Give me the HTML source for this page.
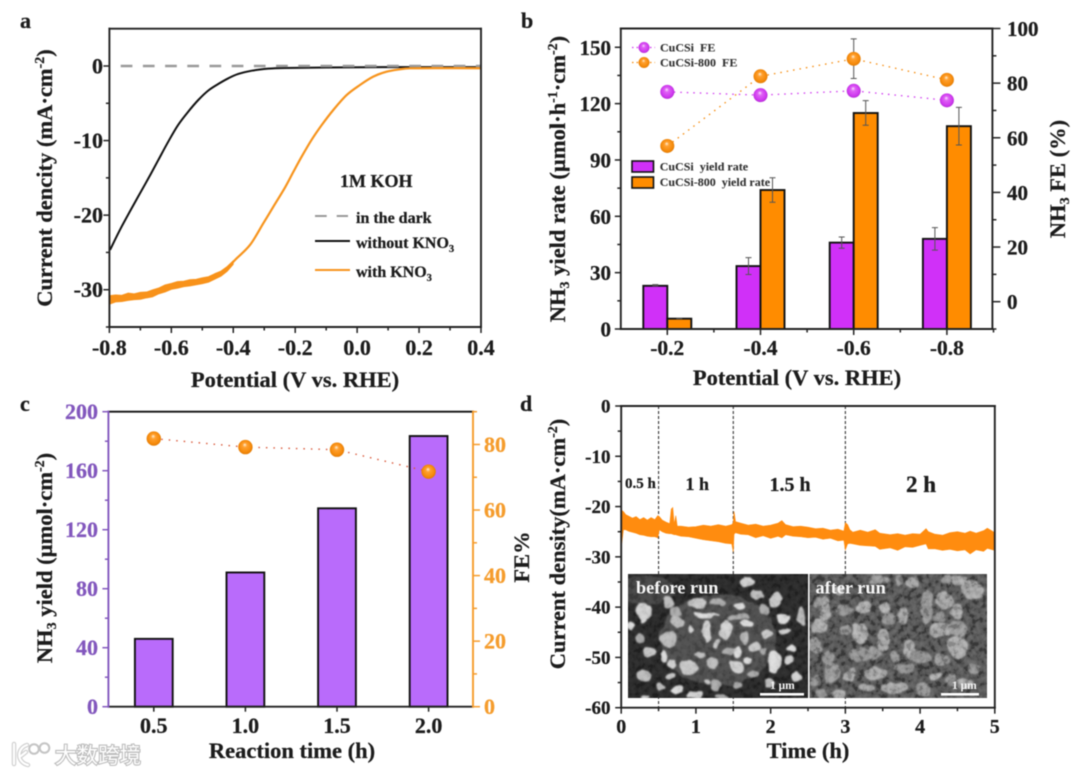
<!DOCTYPE html>
<html lang="en">
<head>
<meta charset="utf-8">
<title>NH3 electrosynthesis four-panel figure</title>
<style>
html,body{margin:0;padding:0;background:#fff;width:1080px;height:775px;overflow:hidden}
svg{display:block;filter:blur(0.5px)}
text{font-family:"Liberation Serif","Noto Serif CJK SC",serif;font-weight:bold;fill:#1c1c1c;stroke:#1c1c1c;stroke-width:.25}
.t22{font-size:22.5px}
.lg{font-size:12px;fill:#333;stroke:#333;stroke-width:.1}
.wh{fill:#f6f6f6;stroke:none}
</style>
</head>
<body>
<svg id="fig" xmlns="http://www.w3.org/2000/svg" width="1080" height="775" viewBox="0 0 1080 775">
<defs>
<radialGradient id="ballO" cx="50%" cy="50%" r="55%" fx="45%" fy="32%">
<stop offset="0" stop-color="#fff2dc"/><stop offset="0.28" stop-color="#ffa030"/><stop offset="0.75" stop-color="#f58a0a"/><stop offset="1" stop-color="#d87405"/>
</radialGradient>
<radialGradient id="ballP" cx="50%" cy="50%" r="55%" fx="45%" fy="32%">
<stop offset="0" stop-color="#fbe4ff"/><stop offset="0.28" stop-color="#df62f5"/><stop offset="0.75" stop-color="#cf38ef"/><stop offset="1" stop-color="#a826c8"/>
</radialGradient>
<filter id="sem" x="-5%" y="-5%" width="110%" height="110%">
<feTurbulence type="fractalNoise" baseFrequency="0.09" numOctaves="2" seed="4" result="n"/>
<feDisplacementMap in="SourceGraphic" in2="n" scale="7" xChannelSelector="R" yChannelSelector="G"/>
<feGaussianBlur stdDeviation="0.8"/>
</filter>
<filter id="grain" x="0" y="0" width="100%" height="100%">
<feTurbulence type="fractalNoise" baseFrequency="0.17" numOctaves="3" seed="9"/>
<feColorMatrix type="matrix" values="2.2 0 0 0 -0.75  2.2 0 0 0 -0.75  2.2 0 0 0 -0.75  0 0 0 0 1"/>
</filter>
<clipPath id="clipL"><rect x="628" y="574" width="180" height="124"/></clipPath>
<clipPath id="clipR"><rect x="809.5" y="574" width="177.5" height="124"/></clipPath>
</defs>
<rect x="0" y="0" width="1080" height="775" fill="#fff"/>

<g id="panelA"></g>
<g id="panelB"></g>
<g id="panelC"></g>
<g id="panelD"></g>

<text x="20" y="28" font-size="22">a</text>
<text x="521" y="28" font-size="22">b</text>
<text x="20" y="411" font-size="22">c</text>
<text x="520" y="411" font-size="22">d</text>

<!-- panel a text -->
<text class="t22" x="295" y="387" text-anchor="middle">Potential (V vs. RHE)</text>
<text class="t22" transform="translate(52 178) rotate(-90)" text-anchor="middle">Current dencity (mA·cm<tspan font-size="14" dy="-8">-2</tspan><tspan dy="8">)</tspan></text>
<text x="340" y="187" font-size="18">1M KOH</text>
<g>
<line x1="315" y1="216" x2="348" y2="216" stroke="#999" stroke-width="2" stroke-dasharray="11.7 10"/>
<text x="356" y="223" font-size="16">in the dark</text>
<line x1="315" y1="241" x2="350" y2="241" stroke="#111" stroke-width="2"/>
<text x="356" y="248" font-size="16">without KNO<tspan font-size="10.5" dy="4">3</tspan></text>
<line x1="315" y1="270" x2="350" y2="270" stroke="#f7941d" stroke-width="2"/>
<text x="356" y="277" font-size="16">with KNO<tspan font-size="10.5" dy="4">3</tspan></text>
</g>

<!-- panel b text -->
<text class="t22" x="797" y="385" text-anchor="middle">Potential (V vs. RHE)</text>
<text class="t22" transform="translate(565 179) rotate(-90)" text-anchor="middle">NH<tspan font-size="14" dy="4">3</tspan><tspan dy="-4"> yield rate (µmol·h</tspan><tspan font-size="14" dy="-8">-1</tspan><tspan dy="8">·cm</tspan><tspan font-size="14" dy="-8">-2</tspan><tspan dy="8">)</tspan></text>
<text class="t22" transform="translate(1065 179) rotate(-90)" text-anchor="middle">NH<tspan font-size="14" dy="4">3</tspan><tspan dy="-4"> FE (%)</tspan></text>
<g>
<line x1="632" y1="47.5" x2="655" y2="47.5" stroke="#cf38ef" stroke-width="1.2" stroke-dasharray="1.5 3"/>
<circle cx="644" cy="47.5" r="5.5" fill="url(#ballP)"/>
<text class="lg" x="660" y="51.5" xml:space="preserve">CuCSi  FE</text>
<line x1="632" y1="62.5" x2="655" y2="62.5" stroke="#f58a0a" stroke-width="1.2" stroke-dasharray="1.5 3"/>
<circle cx="644" cy="62.5" r="5.5" fill="url(#ballO)"/>
<text class="lg" x="660" y="66.5" xml:space="preserve">CuCSi-800  FE</text>
<rect x="632" y="161" width="21.5" height="11" fill="#d030f8" stroke="#111" stroke-width="1.6"/>
<text class="lg" x="659.7" y="170.5" xml:space="preserve">CuCSi  yield rate</text>
<rect x="632" y="177" width="21.5" height="11" fill="#ff8c00" stroke="#111" stroke-width="1.6"/>
<text class="lg" x="659.7" y="186" xml:space="preserve">CuCSi-800  yield rate</text>
</g>

<!-- panel c text -->
<text class="t22" x="292" y="758" text-anchor="middle">Reaction time (h)</text>
<text class="t22" transform="translate(52 558) rotate(-90)" text-anchor="middle">NH<tspan font-size="14" dy="4">3</tspan><tspan dy="-4"> yield (µmol·cm</tspan><tspan font-size="14" dy="-8">-2</tspan><tspan dy="8">)</tspan></text>
<text class="t22" transform="translate(529 557) rotate(-90)" text-anchor="middle">FE%</text>

<!-- panel d text -->
<text class="t22" x="808" y="758" text-anchor="middle">Time (h)</text>
<text class="t22" transform="translate(565 544) rotate(-90)" text-anchor="middle">Current density(mA·cm<tspan font-size="14" dy="-8">-2</tspan><tspan dy="8">)</tspan></text>
<text x="625" y="488" font-size="15">0.5 h</text>
<text x="685.5" y="490" font-size="18">1 h</text>
<text x="769.5" y="491" font-size="20">1.5 h</text>
<text x="906" y="492" font-size="23">2 h</text>

<!-- SEM inset -->
<g>
<g clip-path="url(#clipL)">
<rect x="628" y="574" width="180" height="124" fill="#222"/>
<ellipse cx="718" cy="640" rx="58" ry="46" fill="#484848" filter="url(#sem)"/>
<ellipse cx="645" cy="590" rx="30" ry="14" fill="#404040" filter="url(#sem)"/>
<g id="semLeft" filter="url(#sem)"></g>
<rect x="628" y="574" width="180" height="124" filter="url(#grain)" opacity="0.08"/>
</g>
<g clip-path="url(#clipR)">
<rect x="809" y="574" width="178" height="124" fill="#474747"/>
<g id="semRight" filter="url(#sem)"></g>
<rect x="809" y="574" width="178" height="124" filter="url(#grain)" opacity="0.2"/>
</g>
<rect x="808" y="574" width="1.6" height="124" fill="#f4f4f4"/>
<text class="wh" x="636" y="593.5" font-size="18.3">before run</text>
<text class="wh" x="815.5" y="593.5" font-size="18.3">after run</text>
<rect x="760" y="693" width="44" height="2.6" fill="#fff"/>
<text class="wh" x="770" y="689" font-size="11.5">1 μm</text>
<rect x="941" y="693" width="38" height="2.6" fill="#fff"/>
<text class="wh" x="952" y="689" font-size="11.5">1 μm</text>
</g>

<!-- watermark -->
<g>
<path d="M14 744 L14 764 M27 745 C17 748 16 762 28 765 M26 752 L21 756" fill="none" stroke="#cfcfcf" stroke-width="4.5" stroke-linecap="round"/>
<path d="M14 744 L14 764 M27 745 C17 748 16 762 28 765 M26 752 L21 756" fill="none" stroke="#fff" stroke-width="2.2" stroke-linecap="round"/>
<circle cx="34" cy="749" r="4.8" fill="#fff" stroke="#c4c4c4" stroke-width="2"/>
<circle cx="44.5" cy="748" r="4.8" fill="#fff" stroke="#c4c4c4" stroke-width="2"/>
<text x="55" y="763" font-size="21.5" style="font-family:'Liberation Sans','Noto Sans CJK SC',sans-serif;font-weight:normal;fill:#fff;stroke:#bcbcbc;stroke-width:2.2;paint-order:stroke">大数跨境</text>
</g>
</svg>

<script>
/* ---------- panel a data ---------- */
const aBlackV = [-0.798,-0.76,-0.707,-0.674,-0.642,-0.61,-0.578,-0.545,-0.513,-0.481,-0.448,-0.416,-0.384,-0.34,-0.287,-0.233,-0.1,0.1,0.4];
const aBlackJ = [-24.67,-21.5,-17.5,-15.06,-12.6,-10.15,-7.9,-6.1,-4.56,-3.3,-2.4,-1.65,-1.07,-0.63,-0.36,-0.27,-0.2,-0.15,-0.15];
const aOrangeV = [-0.42,-0.394,-0.346,-0.303,-0.271,-0.233,-0.206,-0.179,-0.147,-0.114,-0.077,-0.034,0.009,0.052,0.095,0.138,0.17,0.25,0.4];
const aOrangeJ = [-27.2,-26,-24,-21.1,-18.9,-16.3,-14.2,-12.15,-9.9,-7.9,-5.9,-3.9,-2.55,-1.43,-0.76,-0.44,-0.31,-0.28,-0.3];
const aBandV = [-0.8,-0.78,-0.76,-0.74,-0.72,-0.7,-0.68,-0.66,-0.64,-0.62,-0.6,-0.58,-0.56,-0.54,-0.52,-0.5,-0.48,-0.46,-0.44,-0.42,-0.4];
const aBandUpper = [-30.8,-30.7,-30.75,-30.45,-30.55,-30.35,-30.3,-30,-29.75,-29.35,-29.15,-28.9,-28.85,-28.65,-28.6,-28.4,-28.25,-27.85,-27.5,-26.9,-26.1];
const aBandLower = [-31.95,-31.65,-31.6,-31.45,-31.35,-31.3,-31.1,-30.95,-30.55,-30.3,-29.95,-29.8,-29.6,-29.5,-29.35,-29.2,-29,-28.6,-28.2,-27.55,-26.6];
const aDarkV = [-0.7635,0.4];
const aDarkJ = [0,0];
const aXTicks = [-0.8,-0.6,-0.4,-0.2,0,0.2,0.4];
const aXLabels = ['-0.8','-0.6','-0.4','-0.2','0.0','0.2','0.4'];
const aYTicks = [0,-10,-20,-30];
const aYLabels = ['0','-10','-20','-30'];

/* ---------- panel b data ---------- */
const bCategories = ['-0.2','-0.4','-0.6','-0.8'];
const bYieldCuCSi = [23,33.5,46,48];
const bYieldCuCSiHi = [23.6,38,49,54];
const bYieldCuCSiLo = [23,29,43,42];
const bYield800 = [5.5,74,115,108];
const bYield800Hi = [5.5,80.5,121.6,118];
const bYield800Lo = [5.5,67.5,108.5,98];
const bFECuCSi = [76.8,75.6,77.2,73.7];
const bFE800 = [57,82.5,88.9,81.2];
const bFE800Hi = [57,82.5,96.2,81.2];
const bFE800Lo = [57,82.5,81.7,81.2];
const bLeftTicks = [0,30,60,90,120,150];
const bRightTicks = [0,20,40,60,80,100];

/* ---------- panel c data ---------- */
const cTimes = ['0.5','1.0','1.5','2.0'];
const cYield = [46,91,134.5,183.5];
const cFE = [81.8,79.2,78.4,71.7];
const cLeftTicks = [0,40,80,120,160,200];
const cRightTicks = [0,20,40,60,80];

/* ---------- panel d data ---------- */
const dTime = [0,0.01,0.03,0.06,0.1,0.15,0.2,0.25,0.3,0.35,0.4,0.45,0.49,0.51,0.55,0.6,0.65,0.67,0.69,0.71,0.73,0.75,0.8,0.9,1,1.1,1.2,1.3,1.4,1.48,1.5,1.51,1.53,1.6,1.7,1.8,1.9,2,2.1,2.15,2.2,2.3,2.4,2.5,2.6,2.7,2.8,2.9,2.98,3,3.03,3.06,3.1,3.2,3.3,3.4,3.46,3.6,3.7,3.8,3.9,4,4.08,4.11,4.2,4.3,4.4,4.5,4.6,4.67,4.75,4.85,4.9,5];
const dUpper = [-23,-20.8,-21,-21.6,-21.9,-22.3,-22,-22.6,-22.2,-22.7,-22.2,-22.6,-21.8,-22,-22.7,-23.1,-23.4,-20.5,-20.2,-23.6,-21.8,-23.9,-23.9,-24.1,-24,-23.7,-23.9,-23.6,-23.9,-23.6,-23.2,-21,-23,-23.3,-23.7,-23.5,-23.9,-23.7,-23.3,-22.8,-23.6,-24,-23.9,-24.1,-24.4,-24.3,-24.7,-24.5,-24.9,-23.2,-23.6,-24.6,-25.1,-24.7,-25.1,-24.6,-25.3,-25.6,-25.4,-25.7,-25.4,-25.5,-24.4,-25,-25.5,-25.7,-25.2,-25,-25.3,-24.9,-25.3,-24.8,-24.3,-25.2];
const dLower = [-28.5,-27,-24.6,-24.6,-24.9,-25.1,-25.3,-25.6,-25.7,-25.9,-26,-26,-26.2,-24.6,-25,-25.3,-25.4,-25.4,-25.5,-25.6,-25.6,-25.7,-25.9,-26,-26.3,-26.6,-26.8,-27,-27.3,-27.4,-29,-25.5,-25.2,-25.5,-25.6,-26.2,-25.8,-26.3,-25.9,-26.2,-25.6,-25.9,-26,-26.2,-26.1,-26.5,-26.3,-26.8,-26.7,-28.6,-27.4,-27.3,-27.4,-27.7,-27.8,-27.9,-28.5,-28.2,-28.7,-28,-28.1,-27.7,-27.4,-28.4,-28.4,-28.7,-28.5,-28.8,-28.6,-29.4,-28.6,-28.9,-28.3,-28.7];
const dDividers = [0.5,1.5,3];
const dXTicks = [0,1,2,3,4,5];
const dYTicks = [0,-10,-20,-30,-40,-50,-60];

/* ---------- SEM inset texture (micrograph, not chart data): cx,cy,rx,ry in crop px ---------- */
const semBefore = [[70,125,22,28],[148,95,18,18],[232,100,26,18],[293,98,26,12],[358,107,16,11],[380,37,22,16],[415,75,22,16],[465,88,18,22],[435,122,18,18],[490,145,22,13],[495,180,18,10],[545,140,12,30],[440,192,15,14],[165,128,18,18],[255,135,40,8],[258,185,14,35],[172,158,16,16],[310,195,16,16],[355,140,35,10],[380,160,20,10],[215,175,10,12],[145,210,25,25],[88,245,20,16],[60,208,14,14],[130,260,12,16],[155,280,14,12],[240,255,18,8],[290,222,10,10],[325,245,18,12],[352,247,12,14],[320,175,14,28],[375,205,15,20],[405,230,14,14],[425,245,12,10],[385,268,14,10],[350,290,20,18],[275,280,20,16],[205,292,28,20],[400,310,20,12],[465,275,18,35],[505,270,12,14],[75,318,22,22],[150,320,16,10],[285,345,16,16],[170,360,18,12],[225,375,25,10],[125,352,12,10],[260,335,10,8],[355,345,16,12],[515,235,14,10],[530,320,18,18],[445,340,14,14],[75,380,14,8],[305,378,22,10],[35,170,12,12],[70,150,12,10]];
const semAfter = [[448,92,22,24],[395,110,16,50],[485,125,18,18],[435,140,16,15],[440,180,35,18],[490,175,25,20],[490,230,28,30],[535,295,14,14],[355,38,16,14],[312,32,12,12],[205,112,22,14],[150,122,24,12],[90,120,14,40],[60,225,16,20],[195,190,22,30],[195,255,28,20],[265,210,16,30],[235,250,22,14],[345,240,16,26],[375,260,30,16],[240,310,32,16],[110,310,18,30],[70,170,18,18],[285,145,18,16],[325,140,12,25],[150,180,14,14],[270,115,14,12],[330,295,28,14],[300,355,38,14],[385,360,18,20],[160,320,14,14],[100,262,14,20],[530,60,30,25],[455,30,14,12],[495,30,20,12],[60,335,12,14],[130,370,16,10],[440,270,22,14],[510,340,24,12],[470,330,16,16],[215,355,20,10],[250,30,30,12],[130,60,14,12],[70,100,12,14],[170,300,8,8],[300,260,10,16],[420,320,16,10],[80,370,14,10]];

/* ---------- helpers ---------- */
const NS = 'http://www.w3.org/2000/svg';
function mk(tag, attrs, parent) {
  const el = document.createElementNS(NS, tag);
  for (const k in attrs) el.setAttribute(k, attrs[k]);
  parent.appendChild(el);
  return el;
}
function linear(d0, d1, r0, r1) { return v => r0 + (v - d0) * (r1 - r0) / (d1 - d0); }
function polyPts(xs, ys, sx, sy) { return xs.map((v, i) => sx(v).toFixed(2) + ',' + sy(ys[i]).toFixed(2)).join(' '); }
function smoothD(xs, ys, sx, sy) {
  const P = xs.map((v, i) => [sx(v), sy(ys[i])]);
  let d = 'M' + P[0][0].toFixed(2) + ' ' + P[0][1].toFixed(2);
  for (let i = 0; i < P.length - 1; i++) {
    const p0 = P[Math.max(i - 1, 0)], p1 = P[i], p2 = P[i + 1], p3 = P[Math.min(i + 2, P.length - 1)];
    const c1x = p1[0] + (p2[0] - p0[0]) / 6, c1y = p1[1] + (p2[1] - p0[1]) / 6;
    const c2x = p2[0] - (p3[0] - p1[0]) / 6, c2y = p2[1] - (p3[1] - p1[1]) / 6;
    d += 'C' + c1x.toFixed(2) + ' ' + c1y.toFixed(2) + ' ' + c2x.toFixed(2) + ' ' + c2y.toFixed(2) + ' ' + p2[0].toFixed(2) + ' ' + p2[1].toFixed(2);
  }
  return d;
}

function axisLine(g, x1, y1, x2, y2, color, sw, name) {
  const el = mk('line', {x1, y1, x2, y2, stroke: color, 'stroke-width': sw, 'stroke-linecap': 'square'}, g);
  
  
}
function tickMark(g, x1, y1, x2, y2, color, name) {
  const el = mk('line', {x1, y1, x2, y2, stroke: color, 'stroke-width': 1.5}, g);
  
  
}
function tickLabel(g, x, y, str, size, anchor, color, name) {
  const el = mk('text', {x, y, 'text-anchor': anchor, 'font-size': size, style: 'fill:' + color + ';stroke:' + color}, g);
  el.textContent = str;
  
  
}
function ball(g, cx, cy, r, grad, name) {
  const el = mk('circle', {cx, cy, r, fill: 'url(#' + grad + ')'}, g);
  
  
}
function bar(g, x, y, w, h, fill, name) {
  const el = mk('rect', {x, y, width: w, height: h, fill, stroke: '#111', 'stroke-width': 1.9}, g);
  
  
}
function errBar(g, x, yHi, yLo, name) {
  const el = mk('path', {d: 'M' + (x - 3) + ' ' + yHi + 'H' + (x + 3) + 'M' + x + ' ' + yHi + 'V' + yLo + 'M' + (x - 3) + ' ' + yLo + 'H' + (x + 3), fill: 'none', stroke: '#555', 'stroke-width': 1}, g);
  
  
}
function series(g, pts, color, sw, dash, name) {
  const attrs = {points: pts, fill: 'none', stroke: color, 'stroke-width': sw, 'stroke-linejoin': 'round'};
  if (dash) attrs['stroke-dasharray'] = dash;
  const el = mk('polyline', attrs, g);
  
  
}
function curve(g, d, color, sw, name) {
  const el = mk('path', {d, fill: 'none', stroke: color, 'stroke-width': sw, 'stroke-linejoin': 'round'}, g);
  
  
}

/* ---------- panel a ---------- */
(function () {
  const g = document.getElementById('panelA');
  const L = 109.4, R = 481, T = 28.7, B = 327;
  const sx = linear(-0.8, 0.4, L, R), sy = linear(0, -35, 66, 327);
  curve(g, smoothD(aBlackV, aBlackJ, sx, sy), '#111', 2, 'without-kno3-line');
  series(g, polyPts(aDarkV, aDarkJ, sx, sy), '#9a9a9a', 2.4, '11.7 10.5', 'dark-current-line');
  curve(g, smoothD(aOrangeV, aOrangeJ, sx, sy), '#f7941d', 2.2, 'with-kno3-line');
  const bandBack = aBandV.slice().reverse(), lowBack = aBandLower.slice().reverse();
  const band = mk('polygon', {points: polyPts(aBandV, aBandUpper, sx, sy) + ' ' + polyPts(bandBack, lowBack, sx, sy), fill: '#f8921a', stroke: '#f8921a', 'stroke-width': 0.8, 'stroke-linejoin': 'round'}, g);
  
  
  axisLine(g, L, T, R, T, '#222', 1.9, 'a-top-spine');
  axisLine(g, L, B, R, B, '#222', 1.9, 'a-bottom-spine');
  axisLine(g, L, T, L, B, '#222', 1.9, 'a-left-spine');
  axisLine(g, R, T, R, B, '#222', 1.9, 'a-right-spine');
  aXTicks.forEach((v, i) => {
    tickMark(g, sx(v), B, sx(v), B + 6, '#222', 'a-x-tick');
    tickLabel(g, sx(v), 355, aXLabels[i], 22, 'middle', '#1c1c1c', 'a-x-tick-label');
    if (i < aXTicks.length - 1) tickMark(g, sx(v + 0.1), B, sx(v + 0.1), B + 3.5, '#222', 'a-x-minor-tick');
  });
  aYTicks.forEach((v, i) => {
    tickMark(g, L, sy(v), L - 6, sy(v), '#222', 'a-y-tick');
    tickLabel(g, 103, sy(v) + 7.5, aYLabels[i], 22, 'end', '#1c1c1c', 'a-y-tick-label');
    tickMark(g, L, sy(v - 5), L - 3.5, sy(v - 5), '#222', 'a-y-minor-tick');
  });
})();

/* ---------- panel b ---------- */
(function () {
  const g = document.getElementById('panelB');
  const L = 620.8, R = 992.4, T = 28.5, B = 329, W = 24;
  const cat = i => 667.3 + i * 93.2;
  const sy = linear(0, 160, B, 28.5), sf = linear(-10, 100, B, 28.5);
  bCategories.forEach((c, i) => {
    const x = cat(i);
    bar(g, x - W, sy(bYieldCuCSi[i]), W, B - sy(bYieldCuCSi[i]), '#d030f8', 'bar-cucsi');
    bar(g, x, sy(bYield800[i]), W, B - sy(bYield800[i]), '#ff8c00', 'bar-cucsi-800');
    errBar(g, x - W / 2, sy(bYieldCuCSiHi[i]), sy(bYieldCuCSiLo[i]), 'error-bar-cucsi');
    errBar(g, x + W / 2, sy(bYield800Hi[i]), sy(bYield800Lo[i]), 'error-bar-cucsi-800');
  });
  const xs = bCategories.map((c, i) => i);
  series(g, polyPts(xs, bFECuCSi, cat, sf), '#cf38ef', 1.3, '1.5 5', 'fe-line-cucsi');
  series(g, polyPts(xs, bFE800, cat, sf), '#f58a0a', 1.3, '1.5 5', 'fe-line-cucsi-800');
  bCategories.forEach((c, i) => {
    errBar(g, cat(i), sf(bFE800Hi[i]), sf(bFE800Lo[i]), 'error-bar-fe-800');
    ball(g, cat(i), sf(bFECuCSi[i]), 7, 'ballP', 'fe-point-cucsi');
    ball(g, cat(i), sf(bFE800[i]), 7, 'ballO', 'fe-point-cucsi-800');
  });
  axisLine(g, L, T, R, T, '#222', 1.9, 'b-top-spine');
  axisLine(g, L, B, R, B, '#222', 1.9, 'b-bottom-spine');
  axisLine(g, L, T, L, B, '#222', 1.9, 'b-left-spine');
  axisLine(g, R, T, R, B, '#222', 1.9, 'b-right-spine');
  bCategories.forEach((c, i) => {
    tickMark(g, cat(i), B, cat(i), B + 6, '#222', 'b-x-tick');
    tickLabel(g, cat(i), 355, c, 21.5, 'middle', '#1c1c1c', 'b-x-tick-label');
    tickMark(g, cat(i) + 46.6, B, cat(i) + 46.6, B + 3.5, '#222', 'b-x-minor-tick');
  });
  bLeftTicks.forEach(v => {
    tickMark(g, L, sy(v), L - 6, sy(v), '#222', 'b-left-tick');
    tickLabel(g, 611, sy(v) + 7.5, String(v), 21, 'end', '#1c1c1c', 'b-left-tick-label');
    if (v + 15 < 160) tickMark(g, L, sy(v + 15), L - 3.5, sy(v + 15), '#222', 'b-left-minor-tick');
  });
  bRightTicks.forEach(v => {
    tickMark(g, R, sf(v), R + 8, sf(v), '#222', 'b-right-tick');
    tickLabel(g, 1007, sf(v) + 7.5, String(v), 21, 'start', '#1c1c1c', 'b-right-tick-label');
    tickMark(g, R, sf(v - 10), R + 4, sf(v - 10), '#222', 'b-right-minor-tick');
  });
})();

/* ---------- panel c ---------- */
(function () {
  const g = document.getElementById('panelC');
  const L = 108.4, R = 473, T = 411.7, B = 706.7, W = 37.8;
  const PUR = '#8257bd', ORG = '#f59c2c';
  const cat = i => 153.8 + i * 91.6;
  const sy = linear(0, 200, B, T), sf = linear(0, 90, B, T);
  cTimes.forEach((c, i) => {
    bar(g, cat(i) - W / 2, sy(cYield[i]), W, B - sy(cYield[i]), '#b96bfb', 'bar-nh3-yield');
  });
  const xs = cTimes.map((c, i) => i);
  series(g, polyPts(xs, cFE, cat, sf), '#d9583a', 1.4, '1.5 6', 'fe-line');
  cTimes.forEach((c, i) => {
    ball(g, cat(i), sf(cFE[i]), 7.2, 'ballO', 'fe-point');
  });
  axisLine(g, L, T, R, T, '#111', 1.9, 'c-top-spine');
  axisLine(g, L, B, R, B, '#222', 1.9, 'c-bottom-spine');
  axisLine(g, L, T, L, B, PUR, 1.9, 'c-left-spine');
  axisLine(g, R, T, R, B, ORG, 1.9, 'c-right-spine');
  cTimes.forEach((c, i) => {
    tickMark(g, cat(i), B, cat(i), B + 5, '#222', 'c-x-tick');
    tickLabel(g, cat(i), 733, c, 22, 'middle', '#1c1c1c', 'c-x-tick-label');
  });
  cLeftTicks.forEach(v => {
    tickMark(g, L, sy(v), L - 6, sy(v), PUR, 'c-left-tick');
    tickLabel(g, 98, sy(v) + 7.5, String(v), 22, 'end', PUR, 'c-left-tick-label');
    if (v < 200) tickMark(g, L, sy(v + 20), L - 3.5, sy(v + 20), PUR, 'c-left-minor-tick');
  });
  cRightTicks.forEach(v => {
    tickMark(g, R, sf(v), R + 7, sf(v), ORG, 'c-right-tick');
    tickLabel(g, 484, sf(v) + 7.5, String(v), 22, 'start', ORG, 'c-right-tick-label');
    tickMark(g, R, sf(v + 10), R + 4, sf(v + 10), ORG, 'c-right-minor-tick');
  });
})();

/* ---------- panel d ---------- */
(function () {
  const g = document.getElementById('panelD');
  const L = 621.2, R = 994.8, T = 406, B = 707.7;
  const sx = linear(0, 5, L, R), sy = linear(0, -60, T, B);
  dDividers.forEach(v => {
    const el = mk('line', {x1: sx(v), y1: T, x2: sx(v), y2: B, stroke: '#333', 'stroke-width': 1.1, 'stroke-dasharray': '3 2'}, g);
    
    
  });
  const up = polyPts(dTime, dUpper, sx, sy);
  const lowT = dTime.slice().reverse(), lowV = dLower.slice().reverse();
  const band = mk('polygon', {points: up + ' ' + polyPts(lowT, lowV, sx, sy), fill: '#ff8c0f', stroke: '#ff8c0f', 'stroke-width': 0.6}, g);
  
  
  axisLine(g, L, T, R, T, '#222', 1.9, 'd-top-spine');
  axisLine(g, L, B, R, B, '#222', 1.9, 'd-bottom-spine');
  axisLine(g, L, T, L, B, '#222', 1.9, 'd-left-spine');
  axisLine(g, R, T, R, B, '#222', 1.9, 'd-right-spine');
  dXTicks.forEach((v, i) => {
    tickMark(g, sx(v), B, sx(v), B + 6, '#222', 'd-x-tick');
    tickLabel(g, sx(v), 733, String(v), 20, 'middle', '#1c1c1c', 'd-x-tick-label');
    if (i < dXTicks.length - 1) tickMark(g, sx(v + 0.5), B, sx(v + 0.5), B + 3.5, '#222', 'd-x-minor-tick');
  });
  dYTicks.forEach((v, i) => {
    tickMark(g, L, sy(v), L - 6, sy(v), '#222', 'd-y-tick');
    tickLabel(g, 610.5, sy(v) + 6.5, String(v), 19, 'end', '#1c1c1c', 'd-y-tick-label');
    if (i < dYTicks.length - 1) tickMark(g, L, sy(v - 5), L - 3.5, sy(v - 5), '#222', 'd-y-minor-tick');
  });
})();

/* ---------- SEM inset blobs ---------- */
(function () {
  const left = document.getElementById('semLeft');
  const right = document.getElementById('semRight');
  const shadesL = ['#d4d4d4', '#bdbdbd', '#c9c9c9', '#a9a9a9', '#dedede'];
  const shadesR = ['#a4a4a4', '#929292', '#ababab', '#8a8a8a'];
  semBefore.forEach((b, i) => {
    const el = mk('ellipse', {cx: 620 + b[0] / 3, cy: 570 + b[1] / 3, rx: b[2] / 3, ry: b[3] / 3, fill: shadesL[i % shadesL.length]}, left);
    
    
  });
  semAfter.forEach((b, i) => {
    const el = mk('ellipse', {cx: 795 + b[0] / 3, cy: 570 + b[1] / 3, rx: b[2] / 3 + 1, ry: b[3] / 3 + 1, fill: shadesR[i % shadesR.length]}, right);
    
    
  });
})();
</script>
</body>
</html>
